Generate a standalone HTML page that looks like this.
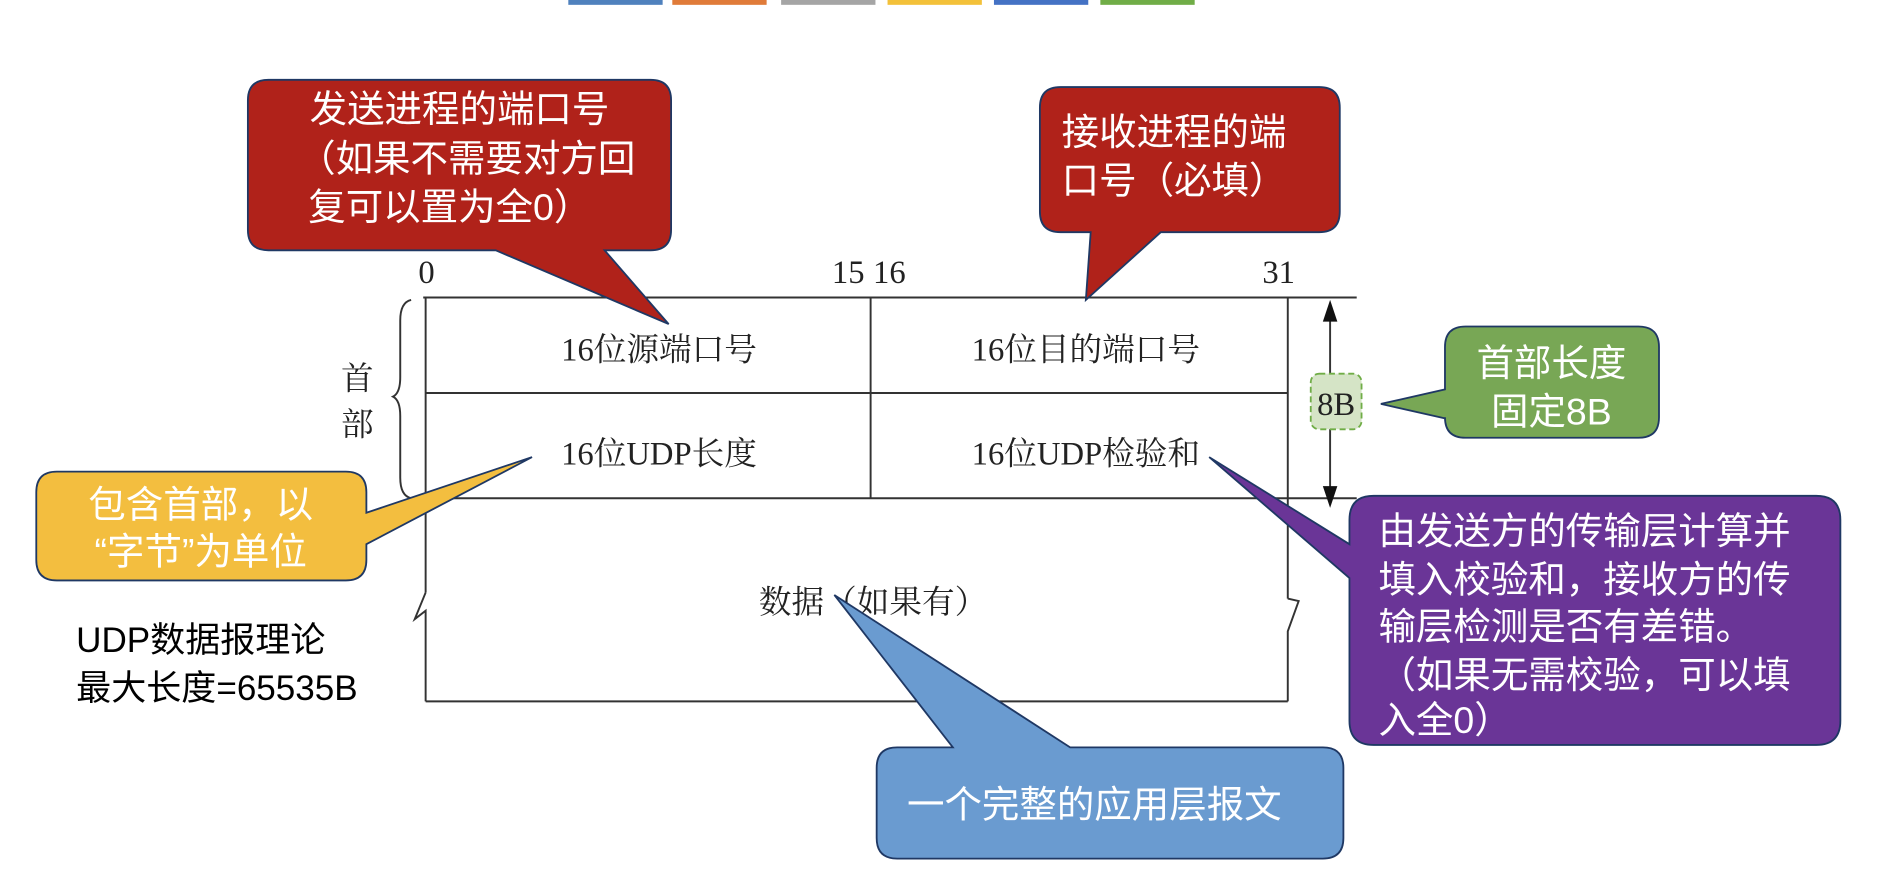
<!DOCTYPE html>
<html><head><meta charset="utf-8"><style>
html,body{margin:0;padding:0;background:#fff;width:1896px;height:884px;overflow:hidden}
svg{display:block}
.s{font-family:"Liberation Serif","Noto Serif CJK SC",serif;font-size:27px;fill:#222}
.c{font-family:"Liberation Sans","Noto Sans CJK SC",sans-serif;font-size:31px;fill:#fff}
.k{font-family:"Liberation Sans","Noto Sans CJK SC",sans-serif;font-size:29px;fill:#000}
</style></head><body>
<svg width="1896" height="884" viewBox="0 0 1568 731" preserveAspectRatio="none" xmlns="http://www.w3.org/2000/svg">
<g>
<rect x="470" y="0" width="78" height="4" fill="#4f81bd"/>
<rect x="556" y="0" width="78" height="4" fill="#e07b39"/>
<rect x="646" y="0" width="78" height="4" fill="#a5a5a5"/>
<rect x="734" y="0" width="78" height="4" fill="#f3c13a"/>
<rect x="822" y="0" width="78" height="4" fill="#4472c4"/>
<rect x="910" y="0" width="78" height="4" fill="#70ad47"/>
</g>
<g stroke="#333" stroke-width="1.6" fill="none">
<line x1="350" y1="246" x2="1122" y2="246"/>
<line x1="352" y1="246" x2="352" y2="490"/>
<polyline points="352,490 343,512 352,505 352,580"/>
<line x1="720" y1="246" x2="720" y2="412"/>
<line x1="1065" y1="246" x2="1065" y2="495"/>
<polyline points="1065,495 1074,497 1065,522 1065,580"/>
<line x1="352" y1="325" x2="1065" y2="325"/>
<line x1="352" y1="412" x2="1122" y2="412"/>
<line x1="352" y1="580" x2="1065" y2="580"/>
<path d="M340,248 Q331,250 331,265 L331,312 Q331,325 325,328 Q331,331 331,344 L331,395 Q331,410 340,412"/>
<line x1="1100" y1="252" x2="1100" y2="416"/>
</g>
<polygon points="1100,248 1094,266 1106,266" fill="#111"/>
<polygon points="1100,420 1094,402 1106,402" fill="#111"/>
<rect x="1084" y="309" width="42" height="46" rx="7" fill="#d5e4c6" stroke="#70ad47" stroke-width="1.5" stroke-dasharray="5,3"/>
<text x="1105" y="343" class="s" text-anchor="middle" font-size="26">8B</text>
<text x="346" y="234" class="s" font-size="25">0</text>
<text x="688" y="234" class="s" font-size="25">15</text>
<text x="722" y="234" class="s" font-size="25">16</text>
<text x="1044" y="234" class="s" font-size="25">31</text>
<text x="282" y="322" class="s" font-size="26">首</text>
<text x="282" y="360" class="s" font-size="26">部</text>
<text x="545" y="298" class="s" text-anchor="middle">16位源端口号</text>
<text x="898" y="298" class="s" text-anchor="middle">16位目的端口号</text>
<text x="545" y="384" class="s" text-anchor="middle">16位UDP长度</text>
<text x="898" y="384" class="s" text-anchor="middle">16位UDP检验和</text>
<text x="722" y="507" class="s" text-anchor="middle">数据（如果有）</text>
<text x="63" y="539" class="k">UDP数据报理论</text>
<text x="63" y="579" class="k">最大长度=65535B</text>
<path d="M222,66 H538 Q555,66 555,83 V190 Q555,207 538,207 H500 L553,268 L410,207 H222 Q205,207 205,190 V83 Q205,66 222,66Z" fill="#b0221a" stroke="#1f3864" stroke-width="1.5"/>
<text x="380" y="101" class="c" text-anchor="middle">发送进程的端口号</text>
<text x="386" y="142" class="c" text-anchor="middle">（如果不需要对方回</text>
<text x="372" y="182" class="c" text-anchor="middle">复可以置为全0）</text>
<path d="M877,72 H1091 Q1108,72 1108,89 V175 Q1108,192 1091,192 H960 L898,248 L902,192 H877 Q860,192 860,175 V89 Q860,72 877,72Z" fill="#b0221a" stroke="#1f3864" stroke-width="1.5"/>
<text x="878" y="120" class="c">接收进程的端</text>
<text x="878" y="160" class="c">口号（必填）</text>
<path d="M1212,270 H1355 Q1372,270 1372,287 V345 Q1372,362 1355,362 H1212 Q1195,362 1195,345 V346 L1142,334 L1195,322 V287 Q1195,270 1212,270Z" fill="#78a755" stroke="#1f3864" stroke-width="1.5"/>
<text x="1283" y="311" class="c" text-anchor="middle">首部长度</text>
<text x="1283" y="351" class="c" text-anchor="middle">固定8B</text>
<path d="M47,390 H286 Q303,390 303,407 V424 L440,378 L303,450 V463 Q303,480 286,480 H47 Q30,480 30,463 V407 Q30,390 47,390Z" fill="#f3be3f" stroke="#1f3864" stroke-width="1.5"/>
<text x="166" y="428" class="c" text-anchor="middle">包含首部，以</text>
<text x="166" y="467" class="c" text-anchor="middle">“字节”为单位</text>
<path d="M1136,410 H1502 Q1522,410 1522,430 V596 Q1522,616 1502,616 H1136 Q1116,616 1116,596 V478 L1000,378 L1116,450 V430 Q1116,410 1136,410Z" fill="#6a3597" stroke="#1f3864" stroke-width="1.5"/>
<text x="1140" y="450" class="c">由发送方的传输层计算并</text>
<text x="1140" y="490" class="c">填入校验和，接收方的传</text>
<text x="1140" y="529" class="c">输层检测是否有差错。</text>
<text x="1140" y="569" class="c">（如果无需校验，可以填</text>
<text x="1140" y="606" class="c">入全0）</text>
<path d="M742,618 H788 L690,492 L885,618 H1094 Q1111,618 1111,635 V693 Q1111,710 1094,710 H742 Q725,710 725,693 V635 Q725,618 742,618Z" fill="#6a9bd0" stroke="#1f3864" stroke-width="1.5"/>
<text x="905" y="676" class="c" text-anchor="middle">一个完整的应用层报文</text>
</svg>
</body></html>
